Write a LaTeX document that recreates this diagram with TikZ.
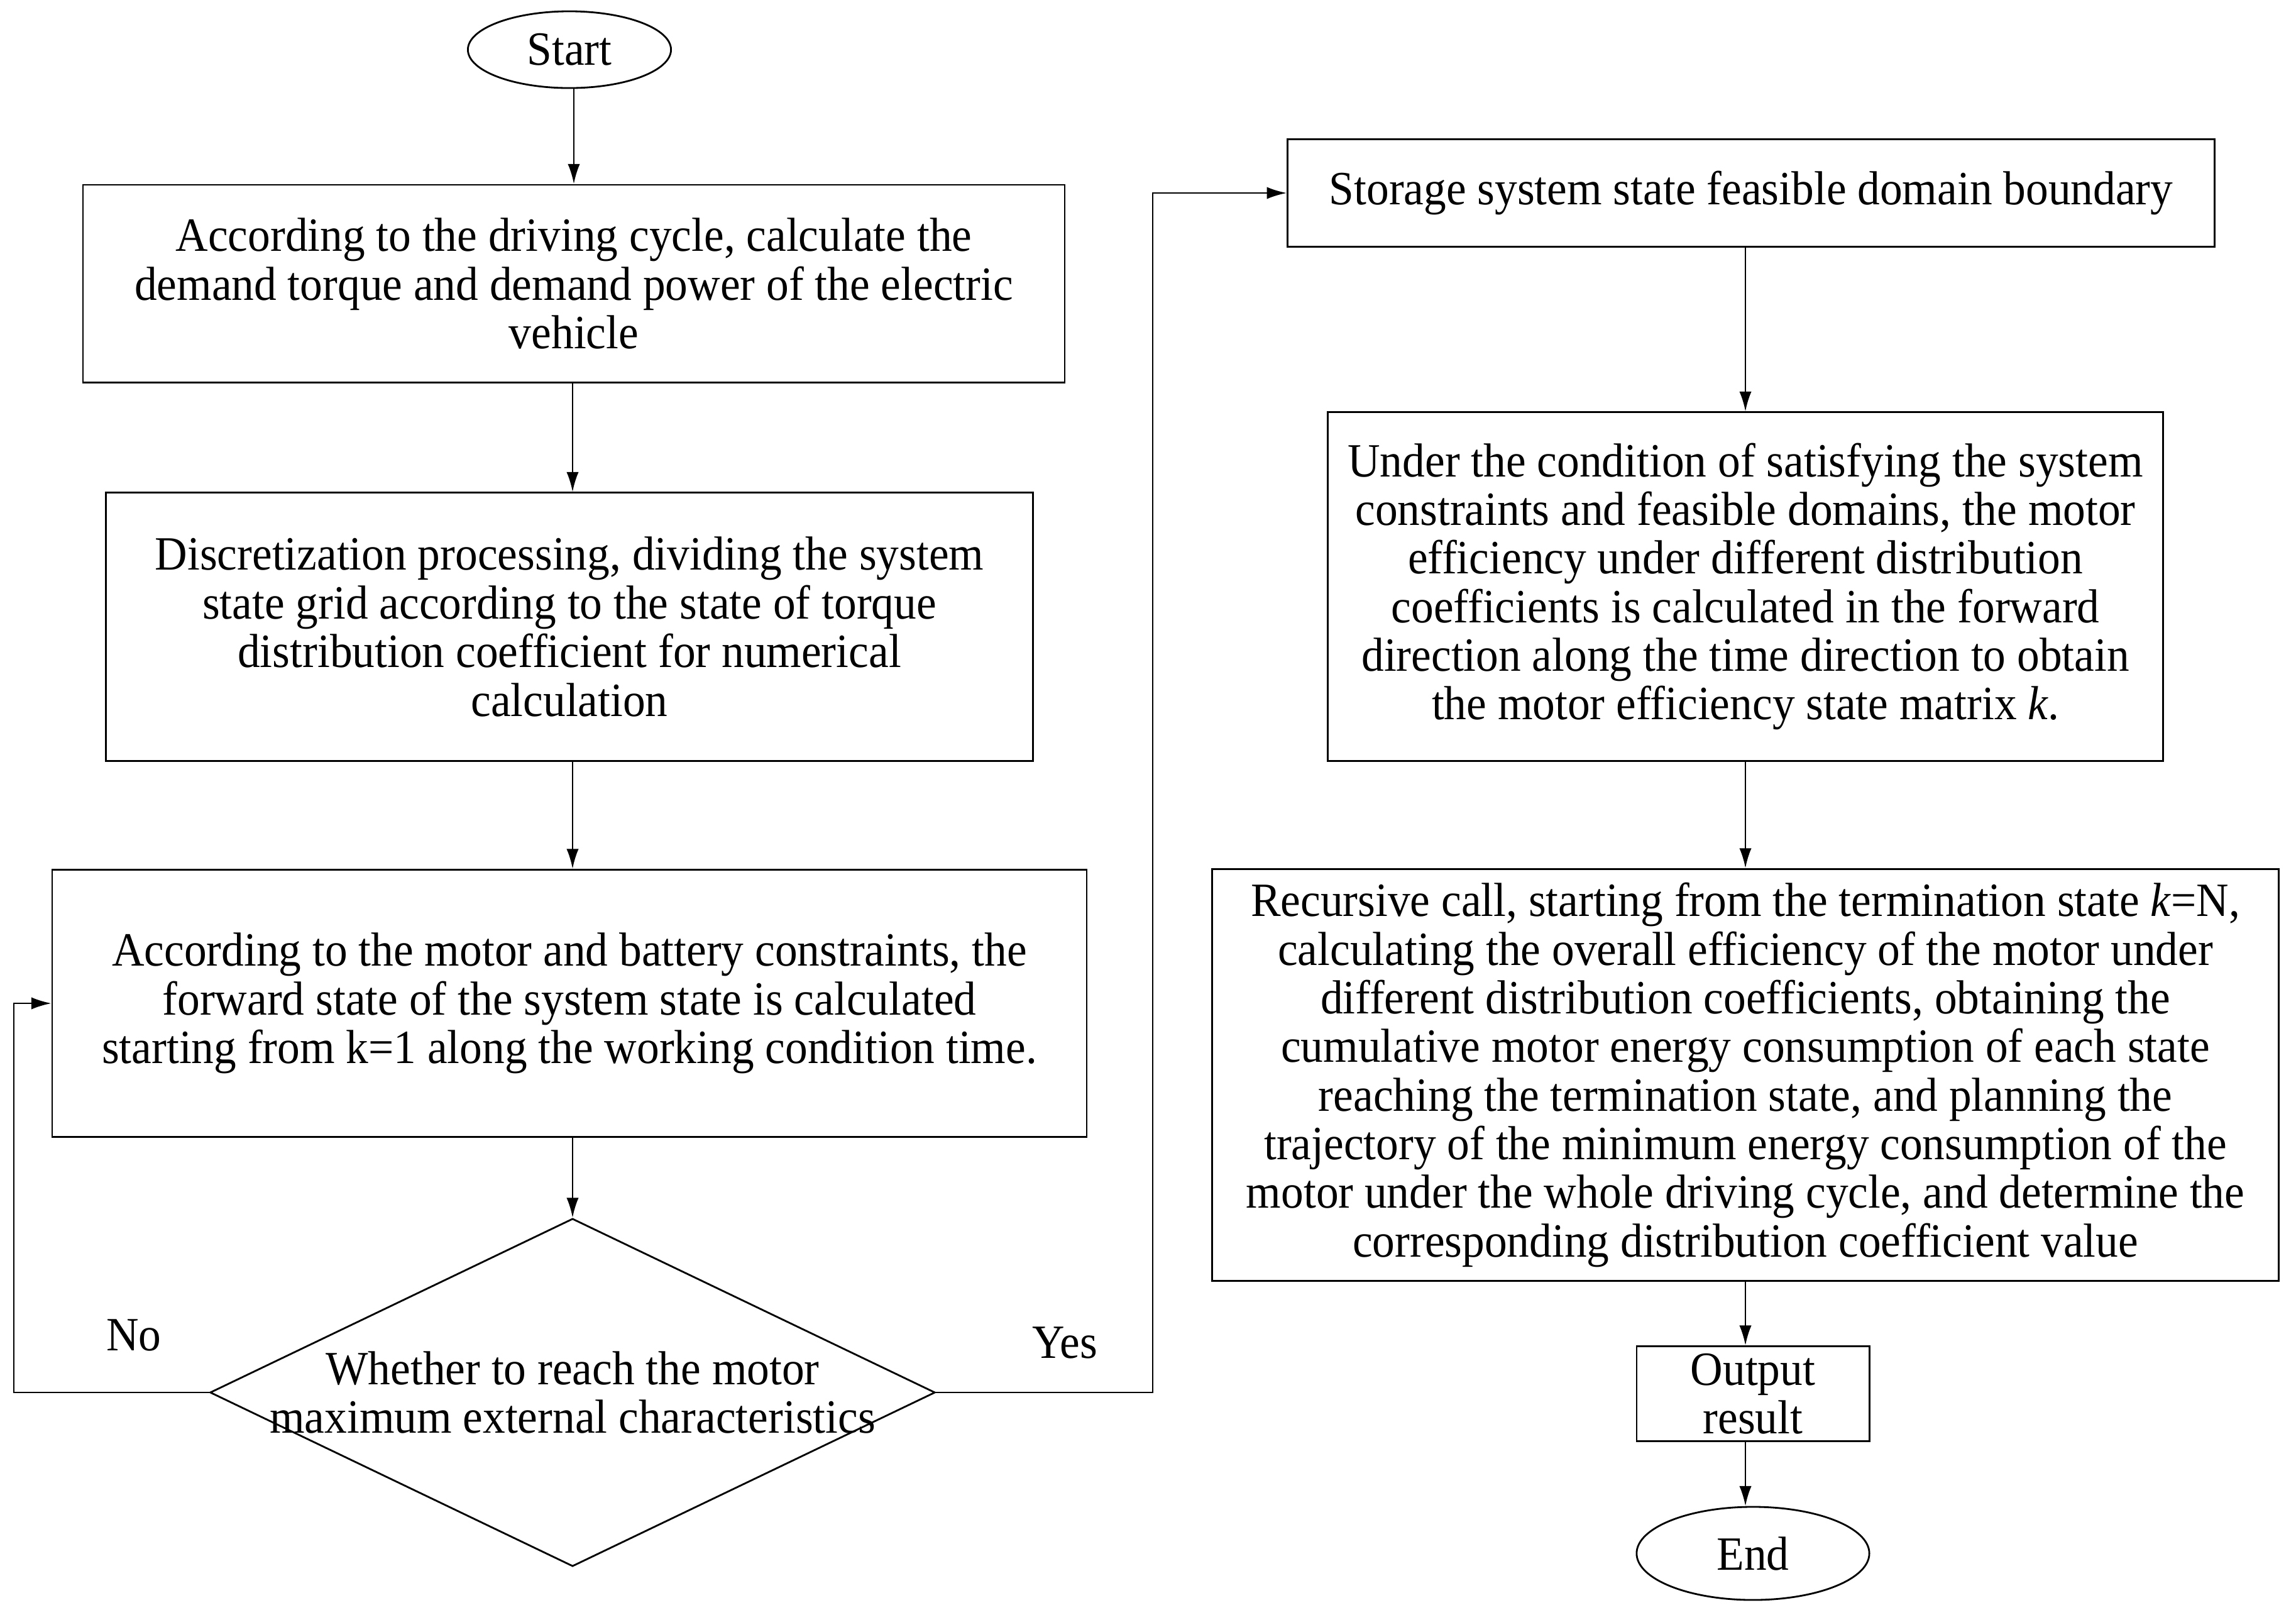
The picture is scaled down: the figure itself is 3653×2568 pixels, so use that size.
\documentclass[tikz,border=0pt]{standalone}
\usepackage{fontspec}
\setmainfont{Liberation Serif}[FakeStretch=0.94]
\usetikzlibrary{arrows.meta,shapes.geometric}
\begin{document}
\begin{tikzpicture}[x=0.01cm,y=-0.01cm,
  txt/.style={font={\fontsize{21.6}{22}\selectfont}, align=center, inner sep=0pt},
  box/.style={txt, draw, line width=0.8pt, rectangle},
  term/.style={txt, draw, line width=0.8pt, ellipse},
  arr/.style={line width=0.8pt, -{Latex[length=9pt,width=5.5pt]}}]
\useasboundingbox (0,0) rectangle (3653,2568);
% left column
\node[term, minimum width=3.23cm, minimum height=1.22cm] (start) at (906,79) {Start};
\node[box, minimum width=15.61cm, minimum height=3.14cm] (b1) at (913,451)
  {According to the driving cycle, calculate the\\demand torque and demand power of the electric\\vehicle};
\node[box, minimum width=14.74cm, minimum height=4.26cm] (b2) at (906,997)
  {Discretization processing, dividing the system\\state grid according to the state of torque\\distribution coefficient for numerical\\calculation};
\node[box, minimum width=16.45cm, minimum height=4.25cm] (b3) at (906,1596)
  {According to the motor and battery constraints, the\\forward state of the system state is calculated\\starting from k=1 along the working condition time.};
\node[draw, diamond, line width=0.8pt, minimum width=11.53cm, minimum height=5.53cm, inner sep=0pt] (dec) at (911,2215) {};
\node[txt] (dectxt) at (dec.center) {Whether to reach the motor\\maximum external characteristics};
\node[txt] (no) at (213,2124) {No};
\node[txt] (yes) at (1694,2136) {Yes};
% right column
\node[box, minimum width=14.74cm, minimum height=1.71cm] (r1) at (2786,307)
  {Storage system state feasible domain boundary};
\node[box, minimum width=13.28cm, minimum height=5.54cm] (r2) at (2777,933)
  {Under the condition of satisfying the system\\constraints and feasible domains, the motor\\efficiency under different distribution\\coefficients is calculated in the forward\\direction along the time direction to obtain\\the motor efficiency state matrix \textit{k}.};
\node[box, minimum width=16.96cm, minimum height=6.55cm] (r3) at (2777,1710)
  {Recursive call, starting from the termination state \textit{k}=N,\\calculating the overall efficiency of the motor under\\different distribution coefficients, obtaining the\\cumulative motor energy consumption of each state\\reaching the termination state, and planning the\\trajectory of the minimum energy consumption of the\\motor under the whole driving cycle, and determine the\\corresponding distribution coefficient value};
\node[box, minimum width=3.70cm, minimum height=1.51cm] (out) at (2789,2217) {Output\\result};
\node[term, minimum width=3.70cm, minimum height=1.48cm] (end) at (2789,2471) {End};
% connectors
\coordinate (nox) at (22,0);
\coordinate (yesx) at (1834,0);
\draw[arr] (start.south -| b1.north) -- (b1.north);
\draw[arr] (b1.south -| dec.north) -- (b2.north -| dec.north);
\draw[arr] (b2.south -| dec.north) -- (b3.north -| dec.north);
\draw[arr] (b3.south -| dec.north) -- (dec.north);
\draw[arr] (dec.west) -- (dec.west -| nox) |- (b3.west);
\draw[arr] (dec.east) -- (dec.east -| yesx) |- (r1.west);
\draw[arr] (r1.south -| r2.north) -- (r2.north);
\draw[arr] (r2.south) -- (r3.north -| r2.south);
\draw[arr] (r3.south) -- (out.north -| r3.south);
\draw[arr] (out.south -| r3.south) -- (end.north -| r3.south);
\end{tikzpicture}
\end{document}
